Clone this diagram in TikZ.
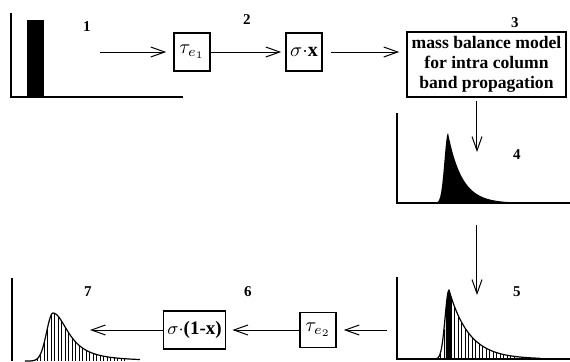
\documentclass[tikz,border=0pt]{standalone}
\usepackage{fontspec}
\setmainfont{Liberation Serif}
\usetikzlibrary{arrows.meta,positioning}

\begin{document}
\begin{tikzpicture}[
  x=0.5pt, y=-0.5pt,
  declare function={
    peakd(\t)=ifthenelse(\t<448, exp(-pow((\t-448)/5,2)), exp(-(\t-448)/14));
    peake(\t)=ifthenelse(\t<449, exp(-pow((\t-449)/5.5,2)), exp(-(\t-449)/20));
    peakg(\t)=ifthenelse(\t<53,  exp(-pow((\t-53)/9,2)),  pow(1+pow((\t-53)/21,2),-1.2));
  },
  op/.style={draw, line width=0.8pt, minimum width=18pt, minimum height=18pt,
             inner sep=2pt, font=\fontsize{10}{11}\selectfont\bfseries},
  model/.style={draw, line width=0.8pt, minimum width=79.5pt, minimum height=32.5pt,
                inner sep=1pt, align=center, font=\fontsize{8.8}{10}\selectfont\bfseries},
  num/.style={font=\fontsize{7.5}{8}\selectfont\bfseries},
  flow/.style={-{Straight Barb[length=7pt,width=5pt]}, line width=0.5pt},
  axis/.style={line width=1pt},
  hatch/.style={line width=0.4pt}
]
\useasboundingbox (0,0) rectangle (570,361);

%% ---------- PANEL 1 (injected pulse) ----------
\draw[axis] (11,13) -- (11,97) -- (183,97);
\fill (27,20) rectangle (44,97);
\node[num] (n1) at (87,27) {1};
\coordinate (p1out) at (100,52);

%% ---------- TOP ROW ----------
\node[op, minimum height=19pt] (te1) at (192,52) {$\tau_{e_1}$};
\node[num] (n2) at (247,20) {2};
\node[op, minimum height=19pt] (sx)  at (304,52) {$\sigma\cdot$x};
\node[model] (mbm) at (486.5,64.5) {mass balance model\\for intra column\\band propagation};
\node[num] (n3) at (515,23) {3};

\draw[flow, shorten >=3.5pt] (p1out) -- (te1.west);
\draw[flow, shorten >=2pt] (te1.east) -- (sx.west);
\draw[flow, shorten <=4pt, shorten >=3.5pt] (sx.east) -- (mbm.west |- sx.east);

%% ---------- PANEL 4 (column output) ----------
\draw[axis] (397,113) -- (397,203) -- (570,203);
\fill plot[domain=420:448, samples=30] (\x,{203-70*peakd(\x)})
   -- plot[domain=448:530, samples=60] (\x,{203-70*peakd(\x)}) -- cycle;
\node[num] (n4) at (517,155) {4};
\coordinate (p4top) at (477,152);
\coordinate (p4bot) at (477,225);
\draw[flow, shorten <=1.5pt] (mbm.south -| p4top) -- (p4top);

%% ---------- PANEL 5 (split peak) ----------
\coordinate (p5top) at (477,295);
\draw[flow] (p4bot) -- (p5top);
\draw[axis] (397,277) -- (397,359) -- (570,359);
\foreach \h in {437,440.5,...,516}
  \draw[hatch] (\h,359) -- (\h,{359-69*peake(\h)});
\fill plot[domain=446:449, samples=6] (\x,{359-69*peake(\x)})
   -- plot[domain=449:452, samples=6] (\x,{359-69*peake(\x)}) -- (452,359) -- (446,359) -- cycle;
\draw[line width=0.6pt] plot[domain=425:449, samples=30] (\x,{359-69*peake(\x)})
   -- plot[domain=449:540, samples=60] (\x,{359-69*peake(\x)});
\node[num] (n5) at (517,292) {5};
\coordinate (p5out) at (387,330);

%% ---------- BOTTOM ROW ----------
\node[op, minimum height=17.5pt] (te2) at (318,330) {$\tau_{e_2}$};
\node[num] (n6) at (248,292) {6};
\node[op, minimum height=19pt, font=\fontsize{9.5}{11}\selectfont\bfseries]
  (s1x) at (194.5,330) {$\sigma\cdot$(1-x)};
\coordinate (p7in) at (90,330);

\draw[flow, shorten >=3.5pt] (p5out) -- (te2.east);
\draw[flow, shorten >=3pt] (te2.west) -- (s1x.east);
\draw[flow] (s1x.west) -- (p7in);

%% ---------- PANEL 7 (recycled part) ----------
\draw[axis] (12,278) -- (12,361);
\foreach \h in {37,40.5,...,126}
  \draw[hatch] (\h,361) -- (\h,{361-48*peakg(\h)});
\draw[line width=0.6pt] plot[domain=25:53, samples=30] (\x,{361-48*peakg(\x)})
   -- plot[domain=53:140, samples=60] (\x,{361-48*peakg(\x)});
\node[num] (n7) at (88,292) {7};

\end{tikzpicture}
\end{document}
